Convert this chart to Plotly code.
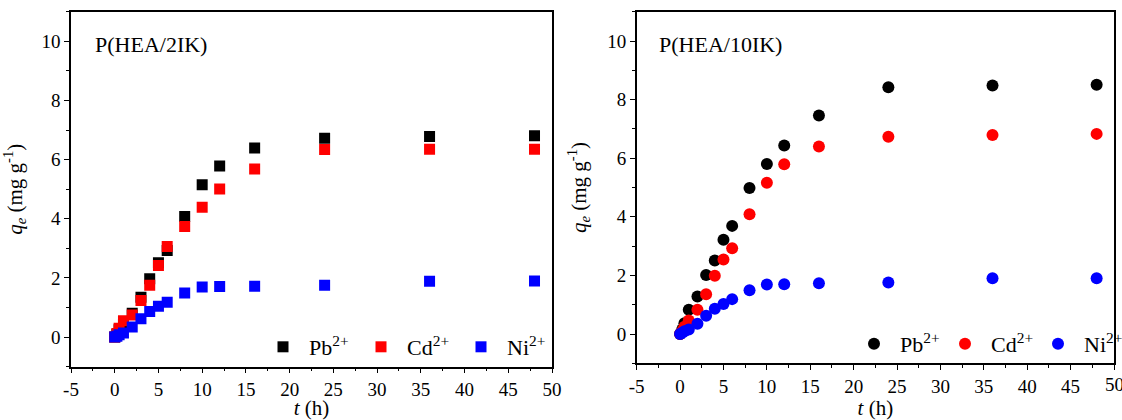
import plotly.graph_objects as go

t = [0, 0.25, 0.5, 1, 2, 3, 4, 5, 6, 8, 10, 12, 16, 24, 36, 48]

# P(HEA/2IK)
pb_2ik = [0, 0.1, 0.25, 0.45, 0.81, 1.35, 1.97, 2.51, 2.93, 4.08, 5.15, 5.78, 6.39, 6.72, 6.78, 6.81]
cd_2ik = [0, 0.12, 0.3, 0.55, 0.75, 1.24, 1.75, 2.42, 3.06, 3.74, 4.39, 5.01, 5.68, 6.34, 6.35, 6.35]
ni_2ik = [0, 0.03, 0.08, 0.14, 0.34, 0.62, 0.87, 1.04, 1.18, 1.49, 1.69, 1.71, 1.72, 1.75, 1.89, 1.9]

# P(HEA/10IK)
pb_10ik = [0, 0.15, 0.37, 0.83, 1.28, 2.01, 2.51, 3.22, 3.69, 4.98, 5.8, 6.43, 7.46, 8.42, 8.48, 8.51]
cd_10ik = [0, 0.1, 0.25, 0.46, 0.83, 1.36, 1.99, 2.54, 2.93, 4.09, 5.16, 5.79, 6.4, 6.73, 6.79, 6.83]
ni_10ik = [0, 0.04, 0.09, 0.15, 0.35, 0.62, 0.86, 1.02, 1.19, 1.49, 1.69, 1.7, 1.73, 1.76, 1.9, 1.9]

names = ["Pb<sup>2+</sup>", "Cd<sup>2+</sup>", "Ni<sup>2+</sup>"]
colors = ["#000000", "#ff0000", "#0000ff"]

xticks = list(range(-5, 55, 5))
yticks = [0, 2, 4, 6, 8, 10]

FONT = "Liberation Serif, Times New Roman, serif"
W, H = 1122, 420

# legend item positions (px): marker centre x, centre y
leg_left_x = [281, 379, 479]
leg_right_x = [872, 963, 1056]
leg_left_y = 347
leg_right_y = 344

fig = go.Figure()

legends = {}
k = 1
for i, (name, col, ys) in enumerate(zip(names, colors, [pb_2ik, cd_2ik, ni_2ik])):
    lname = "legend" if k == 1 else f"legend{k}"
    fig.add_trace(go.Scatter(x=t, y=ys, mode="markers", name=name, showlegend=True,
                             marker=dict(symbol="square", size=11, color=col, line=dict(width=0)),
                             xaxis="x", yaxis="y", legend=lname))
    legends[lname] = (leg_left_x[i], leg_left_y)
    k += 1
for i, (name, col, ys) in enumerate(zip(names, colors, [pb_10ik, cd_10ik, ni_10ik])):
    lname = f"legend{k}"
    fig.add_trace(go.Scatter(x=t, y=ys, mode="markers", name=name, showlegend=True,
                             marker=dict(symbol="circle", size=12, color=col, line=dict(width=0)),
                             xaxis="x2", yaxis="y2", legend=lname))
    legends[lname] = (leg_right_x[i], leg_right_y)
    k += 1

def xax(domain, ticktext):
    return dict(domain=domain, range=[-5, 50], tickmode="array",
                tickvals=xticks, ticktext=ticktext,
                ticks="outside", ticklen=5, tickwidth=1.2, tickcolor="#000",
                minor=dict(ticks="outside", ticklen=3, tickwidth=1.2, tickcolor="#000", dtick=2.5, tick0=-5),
                showline=True, linecolor="#000", linewidth=1.5, mirror=True,
                showgrid=False, zeroline=False, automargin=False,
                ticklabeloverflow="allow",
                tickfont=dict(family=FONT, size=19, color="#000"),
                title=dict(text="<i>t</i> (h)", font=dict(family=FONT, size=21, color="#000")))

def yax(domain):
    return dict(domain=domain, range=[-1, 11], tickmode="array",
                tickvals=yticks, ticktext=[str(v) for v in yticks],
                ticks="outside", ticklen=5, tickwidth=1.2, tickcolor="#000",
                minor=dict(ticks="outside", ticklen=3, tickwidth=1.2, tickcolor="#000", dtick=1, tick0=-1),
                showline=True, linecolor="#000", linewidth=1.5, mirror=True,
                showgrid=False, zeroline=False, automargin=False,
                ticklabeloverflow="allow",
                tickfont=dict(family=FONT, size=19, color="#000"),
                title=dict(text="<i>q<sub>e</sub></i> (mg g<sup>-1</sup>)",
                           font=dict(family=FONT, size=21, color="#000")))

# the right panel's last tick label sits on the page edge, where plotly drops it;
# it is written as an annotation placed on the axis' own scale instead
right_ticktext = [str(v) for v in xticks[:-1]] + [""]

layout = dict(
    width=W, height=H, margin=dict(l=0, r=0, t=0, b=0, autoexpand=False),
    paper_bgcolor="white", plot_bgcolor="white", showlegend=True,
    xaxis=xax([71 / W, 552 / W], [str(v) for v in xticks]) | dict(anchor="y"),
    yaxis=yax([1 - 366.7 / H, 1 - 11.7 / H]) | dict(anchor="x"),
    xaxis2=xax([636.7 / W, 1114 / W], right_ticktext) | dict(anchor="y2"),
    yaxis2=yax([1 - 363.3 / H, 1 - 11.7 / H]) | dict(anchor="x2"),
    annotations=[
        dict(text="P(HEA/2IK)", x=93 / W, y=1 - 45 / H, xref="paper", yref="paper",
             xanchor="left", yanchor="middle", showarrow=False,
             font=dict(family=FONT, size=22, color="#000")),
        dict(text="P(HEA/10IK)", x=657 / W, y=1 - 45 / H, xref="paper", yref="paper",
             xanchor="left", yanchor="middle", showarrow=False,
             font=dict(family=FONT, size=22, color="#000")),
        dict(text=str(xticks[-1]), x=xticks[-1], xref="x2", y=1 - 384 / H, yref="paper",
             xanchor="center", yanchor="middle", showarrow=False,
             font=dict(family=FONT, size=19, color="#000")),
    ],
)
for lname, (px, py) in legends.items():
    layout[lname] = dict(x=(px - 24) / W, y=1 - py / H, xanchor="left", yanchor="middle",
                         itemwidth=42, borderwidth=0, bgcolor="rgba(0,0,0,0)",
                         font=dict(family=FONT, size=22, color="#000"))

fig.update_layout(**layout)
fig.write_html("out.html", include_plotlyjs=True)
